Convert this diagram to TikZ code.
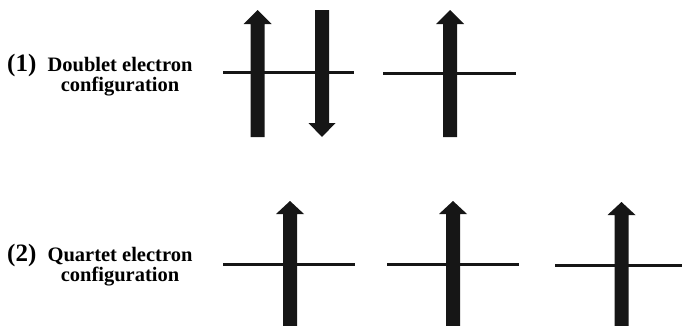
\documentclass[tikz,border=0pt]{standalone}
\usepackage{fontspec}
\setmainfont{Liberation Serif}
\definecolor{ink}{RGB}{22,22,22}
\tikzset{
  % thick spin arrow, origin at the tip; shaft length below the head is \spinshaft
  spinshaft/.store in=\spinshaft, spinshaft=113,
  spinhead/.store in=\spinhead, spinhead=14,
  spin up/.pic={\fill[ink] (0,0) -- (14,-\spinhead) -- (7,-\spinhead) -- (7,-\spinhead-\spinshaft)
      -- (-7,-\spinhead-\spinshaft) -- (-7,-\spinhead) -- (-14,-\spinhead) -- cycle;},
  spin down/.pic={\fill[ink] (0,0) -- (13.5,\spinhead) -- (7,\spinhead) -- (7,\spinhead+\spinshaft)
      -- (-7,\spinhead+\spinshaft) -- (-7,\spinhead) -- (-13.5,\spinhead) -- cycle;},
  level/.style={draw=ink, line width=3pt},
  tag/.style={font=\fontsize{25}{25}\selectfont\bfseries, inner sep=0pt, anchor=base west},
  caption/.style={font=\fontsize{20.5}{20}\selectfont\bfseries, align=center, inner sep=0pt, anchor=base},
}
\begin{document}
\begin{tikzpicture}[x=1pt,y=1pt]
\useasboundingbox (0,0) rectangle (682,325);

% (1) doublet configuration; caption anchored at the baseline of its last line
\node[tag] (n1) at (7,253.3) {(1)};
\node[caption] (c1) at (120,233.3) {Doublet electron\\configuration};
\coordinate (d1a) at (223,252.5);
\coordinate (d1b) at (354,252.5);
\coordinate (d2a) at (383,252);
\coordinate (d2b) at (516,252);
\draw[level] (d1a) -- (d1b);
\draw[level] (d2a) -- (d2b);
\pic at (257.5,315) {spin up};
\pic at (322,188) {spin down};
\pic at (450,315) {spin up};

% (2) quartet configuration
\node[tag] (n2) at (7,63.3) {(2)};
\node[caption] (c2) at (120,43.3) {Quartet electron\\configuration};
\coordinate (q1a) at (223,61);
\coordinate (q1b) at (355,61);
\coordinate (q2a) at (387,61);
\coordinate (q2b) at (519,61);
\coordinate (q3a) at (555,60);
\coordinate (q3b) at (682,60);
\draw[level] (q1a) -- (q1b);
\draw[level] (q2a) -- (q2b);
\draw[level] (q3a) -- (q3b);
\pic[spinshaft=112, spinhead=13] at (290,124) {spin up};
\pic[spinshaft=112, spinhead=13] at (453,124) {spin up};
\pic[spinshaft=111, spinhead=13] at (621.5,123) {spin up};
\end{tikzpicture}
\end{document}
